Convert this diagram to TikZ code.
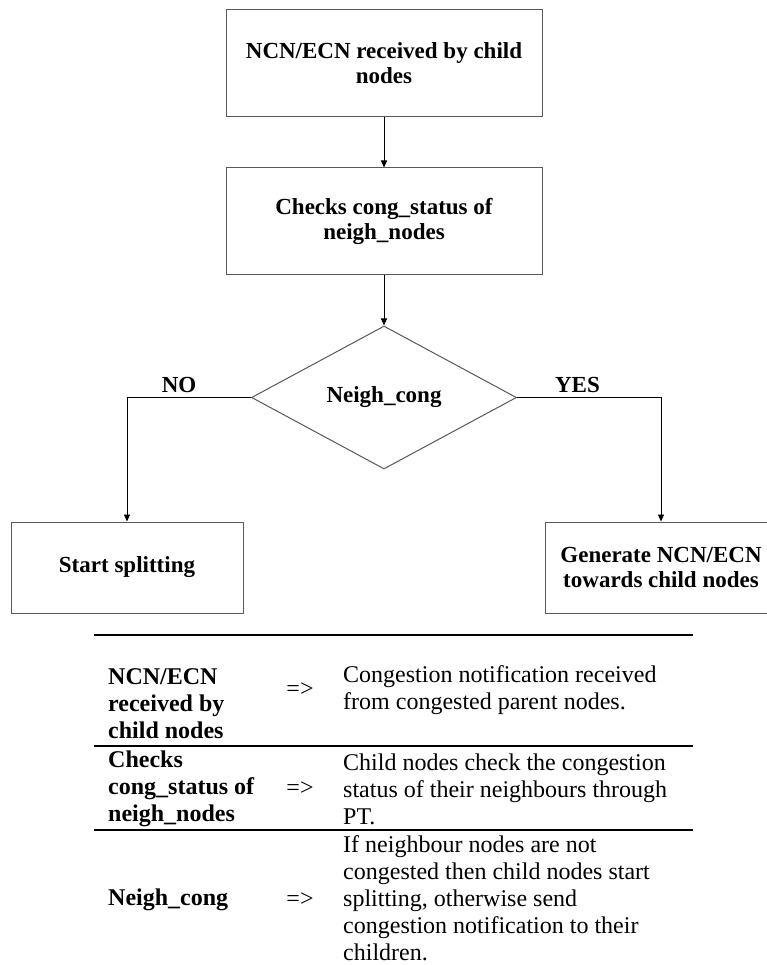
\documentclass[tikz,border=0pt]{standalone}
\usepackage{fontspec}
\setmainfont{Liberation Serif}
\usetikzlibrary{arrows.meta,positioning,shapes.geometric}

\begin{document}
\begin{tikzpicture}[
  x=1pt, y=-1pt,
  box/.style={draw=black!65, line width=1pt, align=center, inner sep=0pt,
    minimum width=316pt, minimum height=107pt, font=\fontsize{23}{25}\selectfont\bfseries},
  dec/.style={draw=black!65, line width=1pt, diamond, inner sep=0pt,
    minimum width=265pt, minimum height=143pt, font=\fontsize{23}{25}\selectfont\bfseries},
  arr/.style={-{Triangle[length=7pt,width=6pt]}, line width=0.9pt},
  lab/.style={font=\fontsize{23}{25}\selectfont\bfseries, inner sep=1pt},
  key/.style={anchor=west, align=left, inner sep=0pt, font=\fontsize{24}{27}\selectfont\bfseries},
  txt/.style={anchor=west, align=left, inner sep=0pt, font=\fontsize{24}{27}\selectfont},
  imp/.style={inner sep=0pt, font=\fontsize{24}{27}\selectfont},
  sep/.style={line width=2.5pt}
]
\useasboundingbox[fill=white] (0,0) rectangle (766,965);

% flow chart
\node[box] (recv) at (384,63.5) {NCN/ECN received by child\\nodes};
\node[box, below=50pt of recv] (check) {Checks cong\_status of\\neigh\_nodes};
\node[dec, below=50pt of check] (cong) {Neigh\_cong};
\node[box, minimum width=232pt, minimum height=91pt] (split) at (127,567.5) {Start splitting};
\node[box, minimum width=232pt, minimum height=91pt] (gen) at (661,567.5) {Generate NCN/ECN\\towards child nodes};

\draw[arr] (recv) -- (check);
\draw[arr] (check) -- (cong);
\draw[arr] (cong.west) -| node[lab, pos=0.29, above=3pt] (no) {NO} (split.north);
\draw[arr] (cong.east) -| node[lab, pos=0.21, above=3pt] (yes) {YES} (gen.north);

% legend table
\draw[sep] (94,635) -- (693,635);
\draw[sep] (94,746) -- (693,746);
\draw[sep] (94,830) -- (693,830);

\node[key] (k1) at (108,703.5) {NCN/ECN\\received by\\child nodes};
\node[imp] (a1) at (300,690) {=>};
\node[txt] (d1) at (343,690) {Congestion notification received\\from congested parent nodes.};

\node[key] (k2) at (108,789) {Checks\\cong\_status of\\neigh\_nodes};
\node[imp] (a2) at (300,789) {=>};
\node[txt] (d2) at (343,789) {Child nodes check the congestion\\status of their neighbours through\\PT.};

\node[key] (k3) at (108,900) {Neigh\_cong};
\node[imp] (a3) at (300,900) {=>};
\node[txt] (d3) at (343,898) {If neighbour nodes are not\\congested then child nodes start\\splitting, otherwise send\\congestion notification to their\\children.};
\end{tikzpicture}
\end{document}
